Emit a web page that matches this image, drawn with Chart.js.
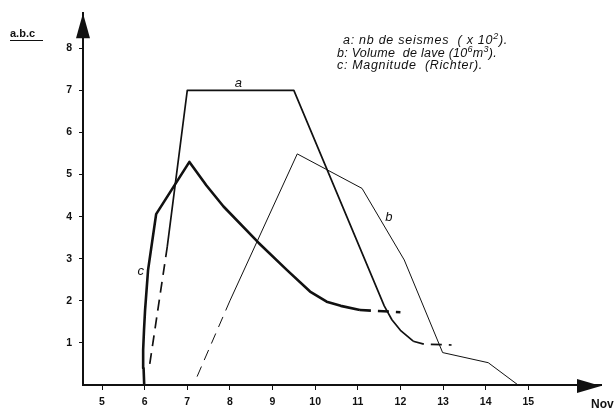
<!DOCTYPE html>
<html>
<head>
<meta charset="utf-8">
<script src="https://cdn.jsdelivr.net/npm/chart.js@4.4.1/dist/chart.umd.min.js"></script>
<style>
  html, body { margin: 0; padding: 0; background: #fff; }
</style>
</head>
<body>
<canvas id="graphe" width="615" height="412"></canvas>
<script>
// jours de novembre
const xTicks = [5, 6, 7, 8, 9, 10, 11, 12, 13, 14, 15];
const yTicks = [1, 2, 3, 4, 5, 6, 7, 8];

// a : nb de seismes (x10^2)
const aX = [6.12, 6.53, 7.0, 9.5, 11.62, 11.8, 12.0, 12.3, 12.55, 13.2];
const aY = [0.5, 3.28, 7.0, 7.0, 1.88, 1.55, 1.3, 1.04, 0.97, 0.95];
const aDash = [0, 7, 8];   // segments en tirets

// b : volume de lave (10^6 m3)
const bX = [7.23, 8.0, 9.58, 11.1, 12.09, 12.99, 14.06, 14.76];
const bY = [0.2, 2.0, 5.49, 4.67, 2.97, 0.77, 0.53, 0];
const bDash = [0];

// c : magnitude (Richter)
const cX = [5.99, 5.975, 5.965, 5.985, 6.01, 6.08, 6.27, 7.05, 7.45, 7.85, 8.67, 9.34, 9.88, 10.27, 10.6, 11.05, 12.0];
const cY = [0, 0.4, 0.83, 1.3, 1.78, 2.73, 4.06, 5.3, 4.74, 4.24, 3.38, 2.73, 2.22, 1.98, 1.88, 1.78, 1.73];
const cDash = [15];

const ink = '#111';
const pts = (xs, ys) => xs.map((x, i) => ({ x: x, y: ys[i] }));
const dashes = (idx) => (ctx) => idx.includes(ctx.p0DataIndex) ? [11, 7] : [];

// fleches, legende, etiquettes
const habillage = {
  id: 'habillage',
  afterDraw(chart) {
    const c = chart.ctx;
    const ca = chart.chartArea;
    const sx = chart.scales.x, sy = chart.scales.y;
    c.save();
    c.fillStyle = ink;
    c.strokeStyle = ink;

    // fleche verticale
    c.beginPath();
    c.moveTo(ca.left, ca.top);
    c.lineTo(ca.left - 7, ca.top + 25);
    c.lineTo(ca.left + 7, ca.top + 25);
    c.closePath();
    c.fill();
    // fleche horizontale
    c.beginPath();
    c.moveTo(ca.right, ca.bottom + 1);
    c.lineTo(ca.right - 24, ca.bottom - 6);
    c.lineTo(ca.right - 24, ca.bottom + 8);
    c.closePath();
    c.fill();

    // titres des axes
    c.font = 'bold 11px "Liberation Sans"';
    c.textBaseline = 'alphabetic';
    c.textAlign = 'left';
    c.fillText('a.b.c', 10, 37);
    c.lineWidth = 1;
    c.beginPath();
    c.moveTo(10, 40.5);
    c.lineTo(43, 40.5);
    c.stroke();
    c.font = 'bold 12px "Liberation Sans"';
    c.fillText('Nov', 591, 408);

    // lettres des courbes
    c.font = 'italic 13px "Liberation Sans"';
    c.textAlign = 'center';
    c.textBaseline = 'middle';
    c.fillText('a', sx.getPixelForValue(8.2), sy.getPixelForValue(7.17));
    c.fillText('b', sx.getPixelForValue(11.73), sy.getPixelForValue(3.99));
    c.fillText('c', sx.getPixelForValue(5.91), sy.getPixelForValue(2.71));

    // legende (chaque ligne ajustee a sa largeur)
    const lignes = [
      [343, 508, 44, [['a: nb de seismes  ( x 10', 0], ['2', 1], [').', 0]]],
      [337, 497, 57, [['b: Volume  de lave (10', 0], ['6', 1], ['m', 0], ['3', 1], [').', 0]]],
      [337, 483, 69, [['c: Magnitude  (Richter).', 0]]]
    ];
    const police = (sup) => sup ? 'italic 9px "Liberation Sans"' : 'italic 12.5px "Liberation Sans"';
    c.textAlign = 'left';
    c.textBaseline = 'alphabetic';
    lignes.forEach(([x0, x1, y0, morceaux]) => {
      c.letterSpacing = '0px';
      let w = 0, n = 0;
      morceaux.forEach(([txt, sup]) => {
        c.font = police(sup);
        w += c.measureText(txt).width;
        n += txt.length;
      });
      const esp = Math.max(0, (x1 - x0 - w) / n);
      c.letterSpacing = esp.toFixed(2) + 'px';
      let x = x0;
      morceaux.forEach(([txt, sup]) => {
        c.font = police(sup);
        c.fillText(txt, x, sup ? y0 - 5 : y0);
        x += c.measureText(txt).width;
      });
    });
    c.restore();
  }
};

const graphe = new Chart(document.getElementById('graphe'), {
  type: 'line',
  data: {
    datasets: [
      {
        label: 'a',
        data: pts(aX, aY),
        borderColor: ink,
        borderWidth: 1.7,
        segment: { borderDash: dashes(aDash) }
      },
      {
        label: 'b',
        data: pts(bX, bY),
        borderColor: ink,
        borderWidth: 1,
        segment: { borderDash: dashes(bDash) }
      },
      {
        label: 'c',
        data: pts(cX, cY),
        borderColor: ink,
        borderWidth: 2.6,
        segment: { borderDash: dashes(cDash) }
      }
    ]
  },
  options: {
    responsive: false,
    animation: false,
    devicePixelRatio: 1,
    layout: { padding: { top: 13, right: 14, left: 0, bottom: 0 } },
    elements: {
      point: { radius: 0 },
      line: { tension: 0, fill: false, borderJoinStyle: 'round', borderCapStyle: 'butt' }
    },
    plugins: {
      legend: { display: false },
      tooltip: { enabled: false }
    },
    scales: {
      x: {
        type: 'linear',
        min: 4.554,
        max: 16.705,
        afterBuildTicks: (s) => { s.ticks = xTicks.map(v => ({ value: v })); },
        afterFit: (s) => { s.height = 27; },
        border: { display: true, color: ink, width: 2 },
        grid: { drawOnChartArea: false, drawTicks: true, tickLength: 5, color: ink, lineWidth: 1 },
        ticks: {
          color: ink,
          padding: 6,
          maxRotation: 0,
          autoSkip: false,
          font: { family: 'Liberation Sans', size: 10.5, weight: 'bold' }
        }
      },
      y: {
        type: 'linear',
        min: 0,
        max: 8.83,
        afterBuildTicks: (s) => { s.ticks = yTicks.map(v => ({ value: v })); },
        afterFit: (s) => { s.width = 83; },
        border: { display: true, color: ink, width: 2 },
        grid: { drawOnChartArea: false, drawTicks: true, tickLength: 4, color: ink, lineWidth: 1 },
        ticks: {
          color: ink,
          padding: 7,
          autoSkip: false,
          font: { family: 'Liberation Sans', size: 10.5, weight: 'bold' }
        }
      }
    }
  },
  plugins: [habillage]
});
</script>
</body>
</html>
